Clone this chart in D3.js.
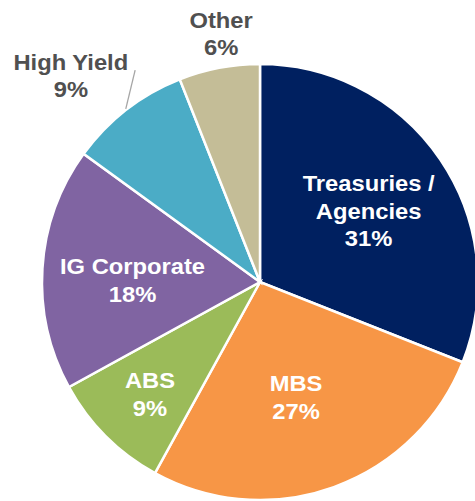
<!DOCTYPE html>
<html>
<head>
<meta charset="utf-8">
<script src="https://cdn.jsdelivr.net/npm/d3@7"></script>
<style>
  html, body { margin: 0; padding: 0; background: #ffffff; }
  svg { display: block; }
  text { font-family: Arial, "Liberation Sans", sans-serif; font-weight: bold; }
</style>
</head>
<body>
<svg id="chart" width="475" height="501"></svg>
<script>
// Portfolio allocation by sector (percent of total)
const categories = ["Treasuries / Agencies", "MBS", "ABS", "IG Corporate", "High Yield", "Other"];
const labelLines = [["Treasuries /", "Agencies"], ["MBS"], ["ABS"], ["IG Corporate"], ["High Yield"], ["Other"]];
const values = [31, 27, 9, 18, 9, 6];
const colors = ["#002060", "#F79646", "#9BBB59", "#8064A2", "#4BACC6", "#C4BD97"];

// Label placement: polar position (degrees clockwise from 12 o'clock, distance from centre)
const labelAngle = [56.8, 162.6, 224.5, 270.9, 317.5, 351.1];
const labelRadius = [129.8, 120.5, 157, 127.5, 280, 251.5];
const labelInside = [true, true, true, true, false, false];

const svg = d3.select("#chart");
const cx = 260, cy = 282, R = 218;
const fontSize = 22, lineGap = 27.5, capH = fontSize * 0.716, stretch = 1.08;

const data = categories.map((c, i) => ({ name: c, value: values[i], color: colors[i], i }));

const pie = d3.pie().value(d => d.value).sort(null);
const arc = d3.arc().innerRadius(0).outerRadius(R);
const arcs = pie(data);

const g = svg.append("g").attr("transform", `translate(${cx},${cy})`);

g.selectAll("path.slice")
  .data(arcs)
  .join("path")
  .attr("class", "slice")
  .attr("d", arc)
  .attr("fill", d => d.data.color)
  .attr("stroke", "#ffffff")
  .attr("stroke-width", 2.5)
  .attr("stroke-linejoin", "miter");

const polar = (deg, r) => {
  const a = deg * Math.PI / 180;
  return [r * Math.sin(a), -r * Math.cos(a)];
};

// Leader line from the High Yield slice to its outside label
const hy = arcs[4];
const midHY = ((hy.startAngle + hy.endAngle) / 2) * 180 / Math.PI;
const p0 = polar(midHY, R + 1);
const p1 = polar(329.5, 246);
g.append("line")
  .attr("x1", p0[0]).attr("y1", p0[1])
  .attr("x2", p1[0]).attr("y2", p1[1])
  .attr("stroke", "#a6a6a6")
  .attr("stroke-width", 1.3);

// Category and percentage labels
arcs.forEach((d, i) => {
  const lines = labelLines[i].concat([d.data.value + "%"]);
  const [x, y] = polar(labelAngle[i], labelRadius[i]);
  const n = lines.length;
  const firstBase = y - ((n - 1) * lineGap + capH) / 2 + capH;
  const lg = g.append("g")
    .attr("transform", `translate(${x},${firstBase}) scale(${stretch},1)`);
  lg.selectAll("text")
    .data(lines)
    .join("text")
    .attr("x", 0)
    .attr("y", (t, k) => k * lineGap)
    .attr("text-anchor", "middle")
    .attr("font-size", fontSize)
    .attr("fill", labelInside[i] ? "#ffffff" : "#505050")
    .text(t => t);
});
</script>
</body>
</html>
